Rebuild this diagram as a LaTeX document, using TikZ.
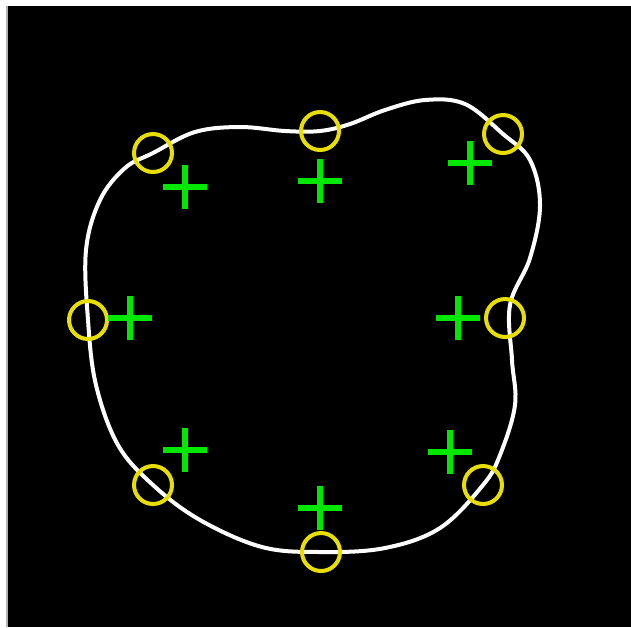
\documentclass[tikz,border=0pt]{standalone}
\usetikzlibrary{shapes.misc}

\definecolor{markyellow}{RGB}{232,222,0}
\definecolor{markgreen}{RGB}{0,232,0}

\begin{document}
\begin{tikzpicture}[
  x=0.02cm,y=-0.02cm,
  ring/.style={circle,draw=markyellow,line width=0.08cm,minimum size=0.76cm,inner sep=0},
  plusmark/.style={cross out,draw=markgreen,line width=0.12cm,rotate=45,minimum size=0.5cm,inner sep=0},
  contour/.style={draw=white,line width=0.08cm},
]
  \useasboundingbox (0,0) rectangle (631,627);
  \fill[black] (7,6) rectangle (631,627);
  \draw[gray!60,line width=0.04cm] (7,6) -- (7,627);
  % closed contour
  \draw[contour] plot[smooth cycle,tension=0.6] coordinates {
    (88,320) (86,250) (100,200) (125,168) (153,153) (195,132) (240,127)
    (285,131) (320,131) (350,124) (385,110) (425,100) (465,104) (503,134)
    (530,160) (540,205) (530,258) (510,305) (512,360) (515,405) (500,455)
    (483,485) (440,528) (385,548) (321,552) (262,547) (200,520) (153,485)
    (118,445) (96,385)};
  % fitted points
  \foreach \n/\x/\y in {a/153/153,b/320/131,c/503/134,d/88/320,e/505/318,f/153/485,g/483/485,h/321/552}
    \node[ring] (r\n) at (\x,\y) {};
  % centre estimates
  \foreach \n/\x/\y in {a/185/187,b/320/181,c/470/163,d/130/318,e/458/318,f/185/450,g/450/452,h/320/508}
    \node[plusmark] (p\n) at (\x,\y) {};
\end{tikzpicture}
\end{document}
